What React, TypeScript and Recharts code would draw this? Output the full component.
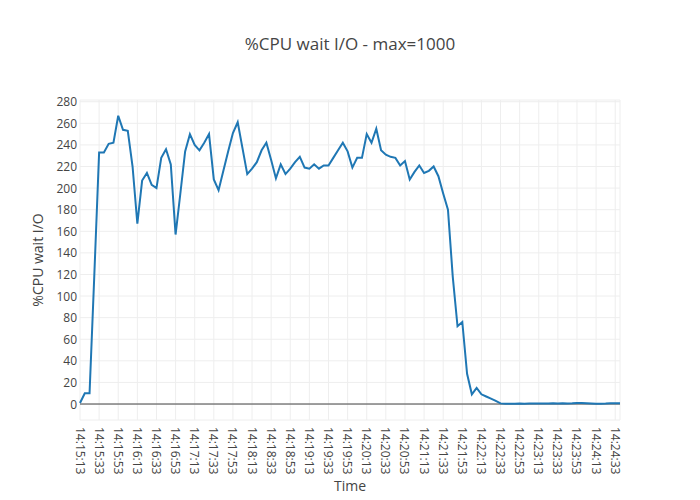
import React from 'react';
import { LineChart, Line, XAxis, YAxis, CartesianGrid, ReferenceLine } from 'recharts';

const categories: string[] = [
  '14:15:13', '14:15:18', '14:15:23', '14:15:28', '14:15:33', '14:15:38', '14:15:43', '14:15:48', '14:15:53', '14:15:58',
  '14:16:03', '14:16:08', '14:16:13', '14:16:18', '14:16:23', '14:16:28', '14:16:33', '14:16:38', '14:16:43', '14:16:48', '14:16:53', '14:16:58',
  '14:17:03', '14:17:08', '14:17:13', '14:17:18', '14:17:23', '14:17:28', '14:17:33', '14:17:38', '14:17:43', '14:17:48', '14:17:53', '14:17:58',
  '14:18:03', '14:18:08', '14:18:13', '14:18:18', '14:18:23', '14:18:28', '14:18:33', '14:18:38', '14:18:43', '14:18:48', '14:18:53', '14:18:58',
  '14:19:03', '14:19:08', '14:19:13', '14:19:18', '14:19:23', '14:19:28', '14:19:33', '14:19:38', '14:19:43', '14:19:48', '14:19:53', '14:19:58',
  '14:20:03', '14:20:08', '14:20:13', '14:20:18', '14:20:23', '14:20:28', '14:20:33', '14:20:38', '14:20:43', '14:20:48', '14:20:53', '14:20:58',
  '14:21:03', '14:21:08', '14:21:13', '14:21:18', '14:21:23', '14:21:28', '14:21:33', '14:21:38', '14:21:43', '14:21:48', '14:21:53', '14:21:58',
  '14:22:03', '14:22:08', '14:22:13', '14:22:18', '14:22:23', '14:22:28', '14:22:33', '14:22:38', '14:22:43', '14:22:48', '14:22:53', '14:22:58',
  '14:23:03', '14:23:08', '14:23:13', '14:23:18', '14:23:23', '14:23:28', '14:23:33', '14:23:38', '14:23:43', '14:23:48', '14:23:53', '14:23:58',
  '14:24:03', '14:24:08', '14:24:13', '14:24:18', '14:24:23', '14:24:28', '14:24:33', '14:24:38',
];

const cpuWaitIO: number[] = [
  1, 10, 10, 120, 233, 233, 241, 242, 267, 254,
  253, 220, 167, 207, 214, 203, 200, 228, 236, 222,
  157, 195, 234, 250, 240, 235, 242, 250, 208, 198,
  216, 234, 251, 261, 237, 213, 218, 224, 235, 242,
  226, 209, 222, 213, 218, 224, 229, 219, 218, 222,
  218, 221, 221, 228, 235, 242, 234, 219, 228, 228,
  250, 242, 255, 235, 231, 229, 228, 221, 225, 208,
  215, 221, 214, 216, 220, 211, 195, 180, 118, 72,
  76, 28, 9, 15, 9, 7, 5, 3, 0.6, 0.3,
  0.2, 0.3, 0.4, 0.3, 0.4, 0.5, 0.5, 0.4, 0.5, 0.6,
  0.5, 0.6, 0.5, 0.7, 1.0, 0.9, 0.7, 0.5, 0.3, 0.3,
  0.5, 0.8, 0.8, 0.7,
];

const xTickIndexes: number[] = [
  0, 4, 8, 12, 16, 20, 24, 28, 32, 36, 40, 44, 48, 52, 56,
  60, 64, 68, 72, 76, 80, 84, 88, 92, 96, 100, 104, 108, 112,
];

const yTicks: number[] = [0, 20, 40, 60, 80, 100, 120, 140, 160, 180, 200, 220, 240, 260, 280];

const data = categories.map((time, idx) => ({ idx, time, value: cpuWaitIO[idx] }));

const FONT = '"Open Sans", sans-serif';
const TEXT = '#444';

function XTick(props: any) {
  const { x, y, payload } = props;
  return (
    <text
      x={x}
      y={y}
      transform={`rotate(90, ${x}, ${y})`}
      textAnchor="start"
      dominantBaseline="central"
      fill={TEXT}
      fontSize={12}
      fontFamily={FONT}
    >
      {categories[payload.value]}
    </text>
  );
}

function YTick(props: any) {
  const { x, y, payload } = props;
  return (
    <text x={x} y={y} textAnchor="end" dominantBaseline="central" fill={TEXT} fontSize={12} fontFamily={FONT}>
      {payload.value}
    </text>
  );
}

export default function App() {
  return (
    <div style={{ position: 'absolute', left: 0, top: 0, width: 700, height: 500, background: '#fff' }}>
      <div
        style={{
          position: 'absolute',
          left: 0,
          top: 34,
          width: 700,
          height: 20,
          lineHeight: '20px',
          textAlign: 'center',
          fontFamily: FONT,
          fontSize: 17,
          color: TEXT,
        }}
      >
        %CPU wait I/O - max=1000
      </div>
      <LineChart width={700} height={500} data={data} margin={{ top: 100, right: 80, bottom: 0, left: 0 }}>
        <CartesianGrid stroke="#eee" strokeWidth={1} />
        <XAxis
          dataKey="idx"
          type="number"
          domain={[0, 113]}
          ticks={xTickIndexes}
          interval={0}
          height={80}
          axisLine={false}
          tickLine={false}
          tickSize={0}
          tickMargin={7}
          tick={<XTick />}
          label={{
            content: () => (
              <text x={350} y={491} textAnchor="middle" fill={TEXT} fontSize={14} fontFamily={FONT}>
                Time
              </text>
            ),
          }}
        />
        <YAxis
          type="number"
          domain={[-14.8, 281.6]}
          ticks={yTicks}
          interval={0}
          width={80}
          axisLine={false}
          tickLine={false}
          tickSize={0}
          tickMargin={3}
          tick={<YTick />}
          label={{
            content: () => (
              <text
                x={37}
                y={260}
                transform="rotate(-90, 37, 260)"
                textAnchor="middle"
                dominantBaseline="central"
                fill={TEXT}
                fontSize={14}
                fontFamily={FONT}
              >
                %CPU wait I/O
              </text>
            ),
          }}
        />
        <ReferenceLine y={0} stroke="#444" strokeWidth={1} />
        <Line
          type="linear"
          dataKey="value"
          stroke="#1f77b4"
          strokeWidth={2}
          dot={false}
          isAnimationActive={false}
        />
      </LineChart>
    </div>
  );
}
